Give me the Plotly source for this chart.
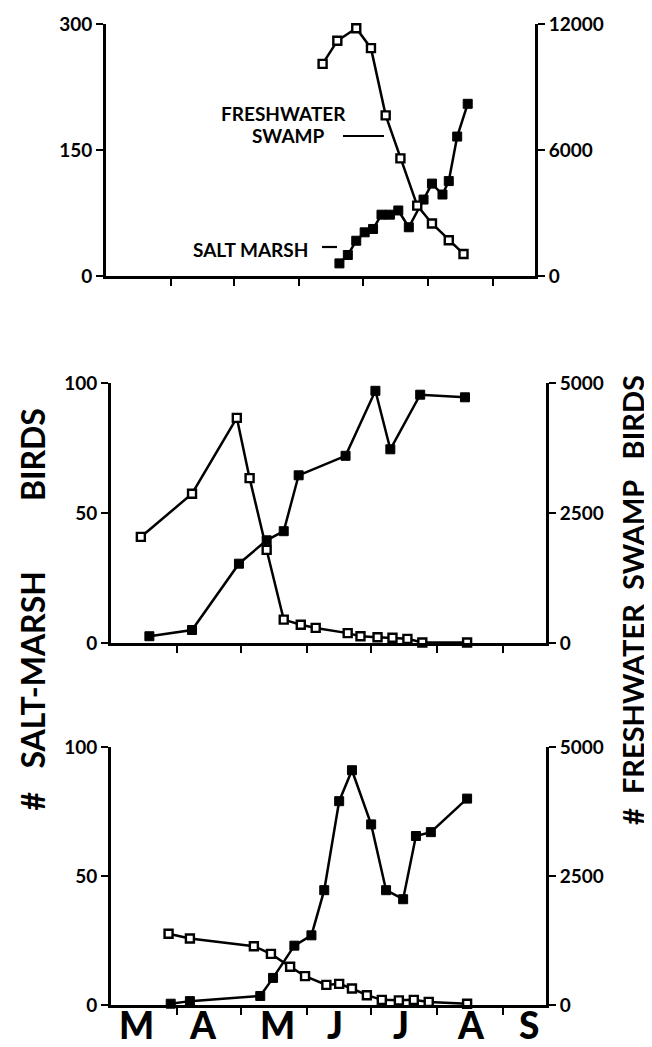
import plotly.graph_objects as go

W, H = 652, 1047

# ---------------- data ----------------
# Panel 1 (top): left axis 0-300 salt marsh, right axis 0-12000 freshwater swamp
p1_salt_dates = ["1985-06-20", "1985-06-24", "1985-06-28", "1985-07-02", "1985-07-06",
                 "1985-07-10", "1985-07-14", "1985-07-18", "1985-07-23", "1985-07-30",
                 "1985-08-03", "1985-08-08", "1985-08-11", "1985-08-15", "1985-08-20"]
p1_salt_vals = [15, 25, 42, 52, 56, 73, 73, 78, 58, 91, 110, 97, 113, 166, 205]
p1_fresh_dates = ["1985-06-12", "1985-06-19", "1985-06-28", "1985-07-05", "1985-07-12",
                  "1985-07-19", "1985-07-27", "1985-08-03", "1985-08-11", "1985-08-18"]
p1_fresh_vals = [10100, 11200, 11800, 10850, 7650, 5600, 3350, 2500, 1700, 1050]

# Panel 2 (middle): left 0-100, right 0-5000
p2_salt_dates = ["1985-03-19", "1985-04-08", "1985-04-30", "1985-05-13", "1985-05-21",
                 "1985-05-28", "1985-06-19", "1985-07-03", "1985-07-10", "1985-07-24",
                 "1985-08-14"]
p2_salt_vals = [2.6, 5, 30.5, 39.5, 43, 64.5, 72, 97, 74.5, 95.5, 94.5]
p2_fresh_dates = ["1985-03-15", "1985-04-08", "1985-04-29", "1985-05-05", "1985-05-13",
                  "1985-05-21", "1985-05-29", "1985-06-05", "1985-06-20", "1985-06-26",
                  "1985-07-04", "1985-07-11", "1985-07-18", "1985-07-25", "1985-08-15"]
p2_fresh_vals = [2040, 2870, 4330, 3170, 1790, 450, 350, 290, 190, 130, 110, 100, 80, 10, 10]

# Panel 3 (bottom): left 0-100, right 0-5000
p3_salt_dates = ["1985-03-29", "1985-04-07", "1985-05-10", "1985-05-16", "1985-05-26",
                 "1985-06-03", "1985-06-09", "1985-06-16", "1985-06-22", "1985-07-01",
                 "1985-07-08", "1985-07-16", "1985-07-22", "1985-07-29", "1985-08-15"]
p3_salt_vals = [0.5, 1.5, 3.5, 10.5, 23, 27, 44.5, 79, 91, 70, 44.5, 41, 65.5, 67, 80]
p3_fresh_dates = ["1985-03-28", "1985-04-07", "1985-05-07", "1985-05-15", "1985-05-24",
                  "1985-05-31", "1985-06-10", "1985-06-16", "1985-06-22", "1985-06-29",
                  "1985-07-06", "1985-07-14", "1985-07-21", "1985-07-28", "1985-08-15"]
p3_fresh_vals = [1380, 1290, 1140, 990, 740, 560, 390, 410, 320, 190, 100, 90, 100, 60, 25]

months = ["M", "A", "M", "J", "J", "A", "S"]
month_label_dates = ["1985-03-13", "1985-04-13", "1985-05-18", "1985-06-14",
                     "1985-07-15", "1985-08-17", "1985-09-13"]
month_tick_dates = ["1985-04-01", "1985-05-01", "1985-06-01", "1985-07-01",
                    "1985-08-01", "1985-09-01"]
x_range = ["1985-03-01", "1985-09-21"]

left_ticks = [[0, 150, 300], [0, 50, 100], [0, 50, 100]]
right_ticks = [[0, 6000, 12000], [0, 2500, 5000], [0, 2500, 5000]]

NB = "\u00a0"
left_title = "#" + NB * 3 + "SALT-MARSH" + NB * 9 + "BIRDS"
right_title = "#" + NB * 2 + "FRESHWATER" + NB * 2 + "SWAMP" + NB * 3 + "BIRDS"

# ---------------- layout geometry (pixels) ----------------
panels = [
    dict(x0=98, x1=527, y0=16, y1=268),
    dict(x0=103, x1=538, y0=375, y1=635),
    dict(x0=103, x1=538, y0=739, y1=997),
]

FONT = "Lato, 'Open Sans', sans-serif"


def fx(p):
    return p / W


def fy(p):
    return 1 - p / H


salt = [(p1_salt_dates, p1_salt_vals), (p2_salt_dates, p2_salt_vals), (p3_salt_dates, p3_salt_vals)]
fresh = [(p1_fresh_dates, p1_fresh_vals), (p2_fresh_dates, p2_fresh_vals), (p3_fresh_dates, p3_fresh_vals)]

fig = go.Figure()
layout = dict(
    width=W, height=H,
    margin=dict(l=0, r=0, t=0, b=0, autoexpand=False),
    paper_bgcolor="white", plot_bgcolor="white",
    showlegend=False,
    font=dict(family=FONT, color="black"),
)

tickfont = dict(family=FONT, size=19, color="black", weight="bold")

for i, pan in enumerate(panels):
    xn = "x" if i == 0 else f"x{i+1}"
    yl = f"y{2*i+1}" if i > 0 else "y"
    yr = f"y{2*i+2}"
    xkey = "xaxis" if i == 0 else f"xaxis{i+1}"
    ylkey = "yaxis" if i == 0 else f"yaxis{2*i+1}"
    yrkey = f"yaxis{2*i+2}"

    # freshwater swamp: open squares, right axis
    fig.add_trace(go.Scatter(
        x=fresh[i][0], y=fresh[i][1], xaxis=xn, yaxis=yr, mode="lines+markers",
        line=dict(color="black", width=2.5),
        marker=dict(symbol="square", size=8, color="white", line=dict(color="black", width=2.4)),
        cliponaxis=False, name="Freshwater swamp"))
    # salt marsh: filled squares, left axis
    fig.add_trace(go.Scatter(
        x=salt[i][0], y=salt[i][1], xaxis=xn, yaxis=yl, mode="lines+markers",
        line=dict(color="black", width=2.5),
        marker=dict(symbol="square", size=9, color="black", line=dict(color="black", width=1)),
        cliponaxis=False, name="Salt marsh"))

    layout[xkey] = dict(
        domain=[fx(pan["x0"]), fx(pan["x1"])], anchor=yl, type="date", range=x_range,
        showline=True, linecolor="black", linewidth=2.8, showgrid=False, zeroline=False,
        automargin=False,
        tickmode="array", tickvals=month_tick_dates, ticks="outside", ticklen=7,
        tickwidth=2.2, tickcolor="black", showticklabels=False,
    )
    common_y = dict(
        domain=[fy(pan["y1"]), fy(pan["y0"])], anchor=xn, automargin=False,
        tickmode="array", ticks="outside", ticklen=7, tickwidth=2.2,
        tickcolor="black", showline=True, linecolor="black", linewidth=2.8,
        showgrid=False, zeroline=False, tickfont=tickfont,
    )
    layout[ylkey] = dict(common_y, side="left",
                         range=[left_ticks[i][0], left_ticks[i][-1]],
                         tickvals=left_ticks[i], ticktext=[str(v) for v in left_ticks[i]])
    layout[yrkey] = dict(common_y, side="right", overlaying=yl,
                         range=[right_ticks[i][0], right_ticks[i][-1]],
                         tickvals=right_ticks[i], ticktext=[str(v) for v in right_ticks[i]])

annotations = []
# month letters under the bottom panel
for m, d in zip(months, month_label_dates):
    annotations.append(dict(text=m, x=d, xref="x3", y=fy(1016), yref="paper",
                            xanchor="center", yanchor="middle", showarrow=False,
                            font=dict(family=FONT, size=37, color="black", weight=900)))

annotations += [
    dict(text="FRESHWATER", x=fx(275), y=fy(105), xref="paper", yref="paper",
         xanchor="center", yanchor="middle", showarrow=False,
         font=dict(family=FONT, size=19, color="black", weight="bold")),
    dict(text="SWAMP", x=fx(280), y=fy(127), xref="paper", yref="paper",
         xanchor="center", yanchor="middle", showarrow=False,
         font=dict(family=FONT, size=19, color="black", weight="bold")),
    dict(text="SALT MARSH", x=fx(242), y=fy(241), xref="paper", yref="paper",
         xanchor="center", yanchor="middle", showarrow=False,
         font=dict(family=FONT, size=19, color="black", weight="bold")),
    dict(text=left_title, x=fx(2), y=fy(602), xref="paper", yref="paper", textangle=-90,
         xanchor="left", yanchor="middle", showarrow=False,
         font=dict(family=FONT, size=32, color="black", weight="bold")),
    dict(text=right_title, x=fx(624), y=fy(592), xref="paper", yref="paper", textangle=-90,
         xanchor="center", yanchor="middle", showarrow=False,
         font=dict(family=FONT, size=29, color="black", weight="bold")),
]
shapes = [
    dict(type="line", xref="paper", yref="paper", x0=fx(335), x1=fx(376), y0=fy(128), y1=fy(128),
         line=dict(color="black", width=2.2)),
    dict(type="line", xref="paper", yref="paper", x0=fx(314), x1=fx(329), y0=fy(239), y1=fy(239),
         line=dict(color="black", width=2.2)),
]
layout["annotations"] = annotations
layout["shapes"] = shapes

fig.update_layout(**layout)
fig.write_html("out.html")
